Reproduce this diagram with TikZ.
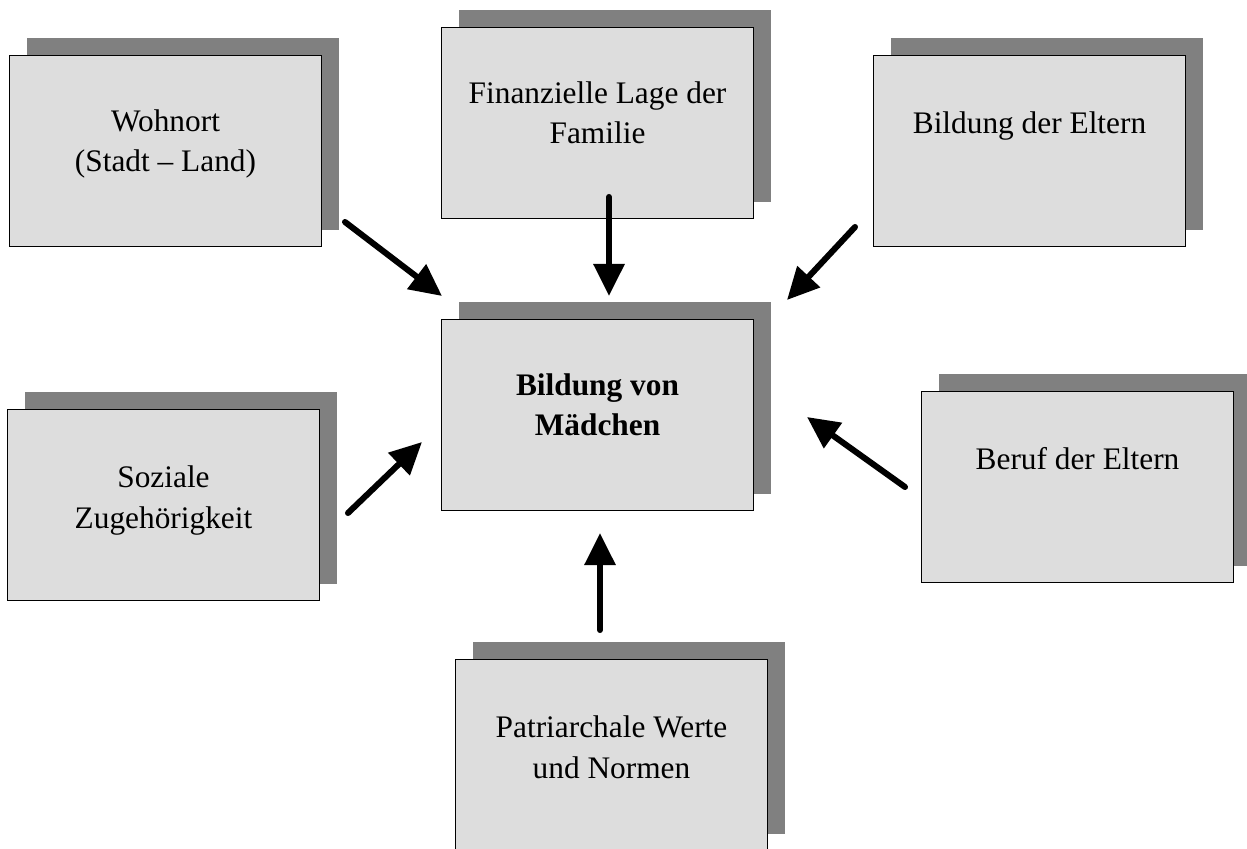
\documentclass[tikz,border=0pt]{standalone}
\usepackage{fontspec}
\setmainfont{Liberation Serif}
\usepackage{tikz}
\usetikzlibrary{arrows.meta}
\usetikzlibrary{shadows}
\usetikzlibrary{positioning}
\definecolor{boxgray}{HTML}{DDDDDD}
\definecolor{shadowgray}{HTML}{808080}
\tikzset{
    faktor/.style={draw=black, line width=1pt, fill=boxgray,
        minimum width=7.8cm, minimum height=4.78cm,
        drop shadow={shadow xshift=0.425cm, shadow yshift=0.425cm, fill=shadowgray, opacity=1}},
    beschriftung/.style={align=center, inner sep=0pt,
        font=\fontsize{22.3}{29}\selectfont},
    pfeil/.style={line width=4.3pt, line cap=round,
        -{Triangle[length=0.8cm,width=0.75cm]}},
}

\begin{document}
\begin{tikzpicture}
	\useasboundingbox (0,0) rectangle (31.175,-21.225);
	% Einflussfaktoren
	\node[faktor] (w) at (4.1375,-3.775) {};
	\node[faktor] (f) at (14.9375,-3.075) {};
	\node[faktor] (e) at (25.7375,-3.775) {};
	\node[faktor] (c) at (14.9375,-10.375) {};
	\node[faktor] (s) at (4.0875,-12.625) {};
	\node[faktor] (b) at (26.9375,-12.175) {};
	\node[faktor] (p) at (15.2875,-18.875) {};
	\node[beschriftung, below=1.36cm of w.north] (wT) {Wohnort\\(Stadt -- Land)};
	\node[beschriftung, below=1.36cm of f.north] (fT) {Finanzielle Lage der\\Familie};
	\node[beschriftung, below=1.42cm of e.north] (eT) {Bildung der Eltern};
	\node[beschriftung, below=1.36cm of c.north, font=\fontsize{22.3}{29}\selectfont\bfseries] (cT) {Bildung von\\Mädchen};
	\node[beschriftung, below=1.42cm of s.north] (sT) {Soziale\\Zugehörigkeit};
	\node[beschriftung, below=1.42cm of b.north] (bT) {Beruf der Eltern};
	\node[beschriftung, below=1.42cm of p.north] (pT) {Patriarchale Werte\\und Normen};
	% Pfeilenden
	\coordinate (w-aus) at (8.625,-5.55);
	\coordinate (c-nw) at (11.05,-7.4);
	\coordinate (f-aus) at (15.225,-4.925);
	\coordinate (c-n) at (15.225,-7.4);
	\coordinate (e-aus) at (21.375,-5.675);
	\coordinate (c-ne) at (19.675,-7.5);
	\coordinate (s-aus) at (8.7,-12.825);
	\coordinate (c-w) at (10.55,-11.05);
	\coordinate (b-aus) at (22.625,-12.175);
	\coordinate (c-e) at (20.175,-10.425);
	\coordinate (p-aus) at (15.0,-15.75);
	\coordinate (c-s) at (15.0,-13.325);
	\draw[pfeil] (w-aus)--(c-nw);
	\draw[pfeil] (f-aus)--(c-n);
	\draw[pfeil] (e-aus)--(c-ne);
	\draw[pfeil] (s-aus)--(c-w);
	\draw[pfeil] (b-aus)--(c-e);
	\draw[pfeil] (p-aus)--(c-s);
\end{tikzpicture}
\end{document}
